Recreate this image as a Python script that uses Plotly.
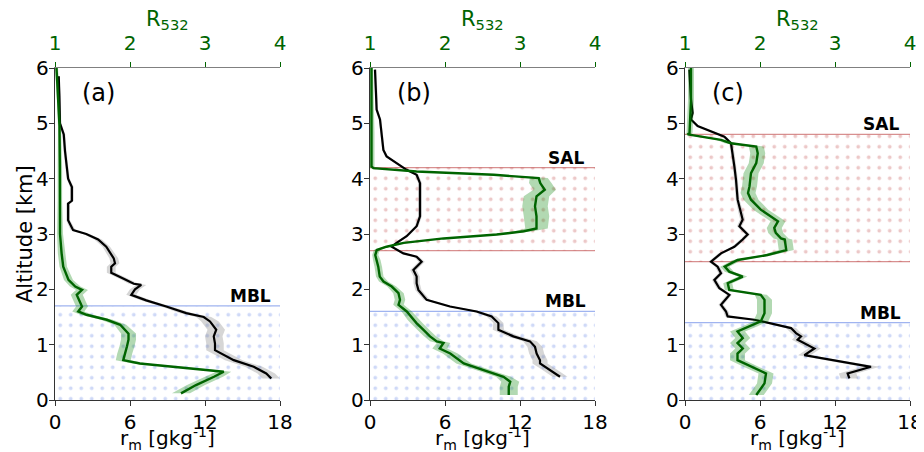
import plotly.graph_objects as go

# ---------------- data ----------------
panel_labels = ["(a)", "(b)", "(c)"]
rm_ticks = [0, 6, 12, 18]
r532_ticks = [1, 2, 3, 4]

# panel (a)
a_rm_alt = [5.85, 5.67, 5.5, 5.0, 4.8, 4.5, 4.2, 4.0, 3.85, 3.6, 3.55, 3.25, 3.07, 3.0, 2.9, 2.77, 2.56, 2.47, 2.41, 2.3,
            2.17, 2.1, 2.08, 2.0, 1.9, 1.8, 1.69, 1.57, 1.5, 1.42, 1.27, 1.15, 1.02, 0.9, 0.72, 0.6, 0.48, 0.39]
a_rm = [0.3, 0.3, 0.35, 0.4, 0.7, 0.8, 0.95, 1.05, 1.35, 1.35, 1.05, 1.05, 1.45, 2.5, 3.45, 4.1, 4.7, 4.8, 4.5, 4.5,
        5.7, 6.3, 6.9, 6.4, 6.1, 7.3, 8.9, 10.5, 11.9, 12.4, 12.9, 12.7, 12.8, 12.8, 14.3, 15.9, 16.9, 17.3]
a_rm_err = [0.1, 0.1, 0.1, 0.1, 0.12, 0.12, 0.12, 0.12, 0.15, 0.15, 0.15, 0.15, 0.2, 0.25, 0.3, 0.3, 0.35, 0.35, 0.35, 0.35,
            0.35, 0.4, 0.4, 0.4, 0.4, 0.4, 0.4, 0.5, 0.6, 0.7, 0.7, 0.7, 0.7, 0.7, 0.7, 0.7, 0.7, 0.7]
a_r_alt = [6.0, 5.43, 4.95, 4.2, 3.6, 3.0, 2.65, 2.41, 2.17, 2.05, 1.99, 1.9, 1.78, 1.69, 1.6, 1.54, 1.45, 1.36, 1.2, 1.09,
           0.97, 0.84, 0.72, 0.66, 0.6, 0.51, 0.42, 0.27, 0.12]
a_r = [1.02, 1.045, 1.06, 1.065, 1.065, 1.067, 1.088, 1.11, 1.18, 1.27, 1.36, 1.29, 1.33, 1.36, 1.31, 1.42, 1.69, 1.87, 1.98, 1.98,
       1.96, 1.93, 1.91, 2.13, 2.62, 3.25, 3.12, 2.88, 2.68]
a_r_err = [0.02, 0.02, 0.02, 0.03, 0.03, 0.04, 0.05, 0.05, 0.06, 0.07, 0.08, 0.08, 0.08, 0.08, 0.08, 0.08, 0.08, 0.08, 0.1, 0.1,
           0.1, 0.1, 0.1, 0.1, 0.1, 0.1, 0.12, 0.12, 0.12]

# panel (b)
b_rm_alt = [5.97, 5.43, 5.25, 5.07, 4.82, 4.52, 4.4, 4.28, 4.16, 4.07, 3.92, 3.62, 3.32, 3.14, 2.96, 2.84, 2.77, 2.65, 2.59, 2.5,
            2.41, 2.35, 2.23, 2.11, 1.99, 1.81, 1.69, 1.6, 1.51, 1.39, 1.27, 1.15, 1.06, 0.96, 0.84, 0.72, 0.66, 0.54, 0.42]
b_rm = [0.4, 0.53, 0.53, 0.8, 0.93, 1.07, 1.33, 2.13, 2.93, 3.73, 4.0, 4.0, 4.0, 3.73, 2.93, 2.13, 1.73, 2.67, 3.73, 4.13,
        3.73, 3.47, 3.73, 3.73, 3.87, 4.53, 6.4, 8.53, 9.73, 10.27, 10.27, 11.47, 12.8, 13.2, 13.33, 13.6, 13.6, 14.4, 15.2]
b_rm_err = [0.1, 0.1, 0.1, 0.1, 0.1, 0.1, 0.12, 0.12, 0.15, 0.15, 0.15, 0.15, 0.15, 0.15, 0.15, 0.15, 0.15, 0.2, 0.2, 0.25,
            0.25, 0.25, 0.25, 0.25, 0.25, 0.25, 0.3, 0.35, 0.4, 0.4, 0.45, 0.5, 0.55, 0.6, 0.6, 0.6, 0.6, 0.6, 0.6]
b_r_alt = [6.0, 5.4, 4.82, 4.22, 4.19, 4.13, 4.07, 4.01, 3.92, 3.8, 3.68, 3.5, 3.32, 3.1, 3.05, 2.99, 2.92, 2.84, 2.77, 2.71,
           2.62, 2.53, 2.41, 2.23, 2.14, 2.05, 1.93, 1.81, 1.72, 1.6, 1.45, 1.39, 1.27, 1.15, 1.06, 1.03, 0.93, 0.84, 0.66, 0.54,
           0.42, 0.33, 0.24, 0.09]
b_r = [1.02, 1.02, 1.02, 1.02, 1.045, 1.62, 2.65, 3.25, 3.27, 3.33, 3.22, 3.2, 3.22, 3.22, 3.05, 2.69, 1.98, 1.45, 1.22, 1.09,
       1.07, 1.09, 1.11, 1.13, 1.18, 1.29, 1.38, 1.4, 1.38, 1.49, 1.58, 1.62, 1.71, 1.8, 1.89, 1.98, 1.93, 2.07, 2.25, 2.51,
       2.78, 2.87, 2.85, 2.85]
b_r_err = [0.02, 0.03, 0.04, 0.04, 0.04, 0.1, 0.12, 0.12, 0.15, 0.15, 0.17, 0.17, 0.17, 0.15, 0.12, 0.1, 0.06, 0.05, 0.04, 0.04,
           0.04, 0.05, 0.05, 0.05, 0.06, 0.06, 0.07, 0.07, 0.07, 0.07, 0.08, 0.08, 0.08, 0.08, 0.09, 0.09, 0.1, 0.1, 0.1, 0.1,
           0.1, 0.12, 0.12, 0.12]

# panel (c)
c_rm_alt = [5.97, 5.43, 5.19, 5.07, 4.95, 4.86, 4.76, 4.64, 4.46, 4.22, 3.98, 3.62, 3.38, 3.26, 3.14, 2.99, 2.9, 2.77, 2.65, 2.5,
            2.41, 2.29, 2.17, 2.02, 1.9, 1.72, 1.6, 1.51, 1.45, 1.3, 1.21, 1.15, 1.09, 0.93, 0.81, 0.69, 0.6, 0.48, 0.39]
c_rm = [0.35, 0.48, 0.61, 0.48, 1.01, 2.08, 3.15, 3.68, 3.81, 3.95, 4.08, 4.21, 4.48, 4.61, 4.35, 5.01, 4.61, 3.95, 2.88, 2.08,
        2.61, 2.88, 2.35, 2.75, 3.55, 2.88, 3.28, 3.41, 5.55, 8.48, 8.88, 9.28, 9.01, 10.35, 9.55, 12.48, 14.88, 13.01, 13.15]
c_rm_err = [0.1, 0.1, 0.1, 0.1, 0.12, 0.15, 0.15, 0.15, 0.15, 0.15, 0.15, 0.15, 0.2, 0.2, 0.2, 0.2, 0.2, 0.2, 0.2, 0.2,
            0.2, 0.2, 0.2, 0.2, 0.2, 0.2, 0.2, 0.2, 0.3, 0.4, 0.4, 0.45, 0.45, 0.5, 0.5, 0.6, 0.7, 0.7, 0.7]
c_r_alt = [6.0, 5.43, 4.82, 4.8, 4.7, 4.64, 4.58, 4.46, 4.28, 4.1, 3.86, 3.74, 3.62, 3.44, 3.23, 3.11, 3.02, 2.92, 2.9, 2.71,
           2.62, 2.53, 2.41, 2.32, 2.23, 2.11, 1.99, 1.9, 1.81, 1.57, 1.42, 1.33, 1.24, 1.12, 1.03, 0.93, 0.84, 0.72, 0.6, 0.48,
           0.3, 0.09]
c_r = [1.08, 1.08, 1.06, 1.035, 1.48, 1.61, 1.95, 1.97, 1.95, 1.88, 1.86, 1.84, 1.88, 2.01, 2.24, 2.19, 2.21, 2.28, 2.33, 2.35,
       2.1, 1.7, 1.53, 1.59, 1.77, 1.57, 1.59, 2.01, 2.06, 2.06, 2.01, 1.86, 1.7, 1.77, 1.7, 1.77, 1.7, 1.7, 1.88, 2.08,
       2.06, 1.95]
c_r_err = [0.04, 0.04, 0.04, 0.04, 0.06, 0.08, 0.1, 0.1, 0.1, 0.1, 0.1, 0.1, 0.1, 0.1, 0.1, 0.1, 0.1, 0.1, 0.1, 0.1,
           0.08, 0.06, 0.06, 0.06, 0.06, 0.06, 0.06, 0.08, 0.1, 0.1, 0.1, 0.1, 0.1, 0.1, 0.1, 0.1, 0.1, 0.1, 0.1, 0.1,
           0.1, 0.1]

# layer boundaries (km)
mbl_top = [1.7, 1.6, 1.4]
sal_bottom = [None, 2.7, 2.5]
sal_top = [None, 4.2, 4.8]

# ---------------- styling ----------------
FONT = "DejaVu Sans"
GREEN = "#006400"
GREEN_BAND = "rgba(0,128,0,0.30)"
GRAY_BAND = "rgba(128,128,128,0.32)"
BLUE_LAYER = "rgba(65,105,225,0.5)"
RED_LAYER = "rgba(178,34,34,0.5)"
AXC = "#333333"

# page body adds an 8px offset, so the figure is 8px smaller than the window
W, H = 916, 444
ML, MR, MT, MB = 47, 14, 60, 52
PW = W - ML - MR
PH = H - MT - MB
domains = [(0.0, 225 / PW), (315 / PW, 540 / PW), (630 / PW, 855 / PW)]

panels = [
    (a_rm_alt, a_rm, a_rm_err, a_r_alt, a_r, a_r_err),
    (b_rm_alt, b_rm, b_rm_err, b_r_alt, b_r, b_r_err),
    (c_rm_alt, c_rm, c_rm_err, c_r_alt, c_r, c_r_err),
]

fig = go.Figure()


def band(x, err, y):
    lo = [v - e for v, e in zip(x, err)]
    hi = [v + e for v, e in zip(x, err)]
    return hi + lo[::-1], list(y) + list(y)[::-1]


def layer(y0, y1, color, xr, yr):
    fig.add_trace(go.Scatter(
        x=[rm_ticks[0], rm_ticks[-1], rm_ticks[-1], rm_ticks[0], rm_ticks[0]],
        y=[y0, y0, y1, y1, y0], xaxis=xr, yaxis=yr, mode="none", fill="toself",
        fillcolor="rgba(0,0,0,0)",
        fillpattern=dict(shape=".", fgcolor=color, bgcolor="rgba(0,0,0,0)", size=10.5, solidity=0.1),
        hoverinfo="skip", showlegend=False))


for i, (rm_alt, rm, rm_err, r_alt, r, r_err) in enumerate(panels):
    n = "" if i == 0 else str(i + 1)
    xb, yb = "x" + n, "y" + n
    xt = "x" + str(i + 4)

    # layers
    layer(0, mbl_top[i], BLUE_LAYER, xb, yb)
    fig.add_trace(go.Scatter(x=[rm_ticks[0], rm_ticks[-1]], y=[mbl_top[i], mbl_top[i]], xaxis=xb, yaxis=yb,
                             mode="lines", line=dict(color=BLUE_LAYER, width=1.2), hoverinfo="skip", showlegend=False))
    fig.add_annotation(x=17.4, y=mbl_top[i], xref=xb, yref=yb, text="<b>MBL</b>", showarrow=False,
                       xanchor="right", yanchor="bottom", yshift=-2, font=dict(family=FONT, size=17, color="black"))
    if sal_bottom[i] is not None:
        layer(sal_bottom[i], sal_top[i], RED_LAYER, xb, yb)
        for yv in (sal_bottom[i], sal_top[i]):
            fig.add_trace(go.Scatter(x=[rm_ticks[0], rm_ticks[-1]], y=[yv, yv], xaxis=xb, yaxis=yb,
                                     mode="lines", line=dict(color=RED_LAYER, width=1.2), hoverinfo="skip",
                                     showlegend=False))
        fig.add_annotation(x=17.3, y=sal_top[i], xref=xb, yref=yb, text="<b>SAL</b>", showarrow=False,
                           xanchor="right", yanchor="bottom", yshift=-2, font=dict(family=FONT, size=17, color="black"))

    # bands
    bx, by = band(rm, rm_err, rm_alt)
    fig.add_trace(go.Scatter(x=bx, y=by, xaxis=xb, yaxis=yb, mode="none", fill="toself",
                             fillcolor=GRAY_BAND, hoverinfo="skip", showlegend=False))
    gx, gy = band(r, r_err, r_alt)
    fig.add_trace(go.Scatter(x=gx, y=gy, xaxis=xt, yaxis=yb, mode="none", fill="toself",
                             fillcolor=GREEN_BAND, hoverinfo="skip", showlegend=False))
    # lines
    fig.add_trace(go.Scatter(x=rm, y=rm_alt, xaxis=xb, yaxis=yb, mode="lines",
                             line=dict(color="black", width=2.2), showlegend=False))
    fig.add_trace(go.Scatter(x=r, y=r_alt, xaxis=xt, yaxis=yb, mode="lines",
                             line=dict(color=GREEN, width=2.4), showlegend=False))

    fig.add_annotation(x=2.0, y=5.55, xref=xb, yref=yb, text=panel_labels[i], showarrow=False,
                       xanchor="left", yanchor="middle", font=dict(family=FONT, size=24, color="black"))

    # axis titles placed as annotations around the panel
    xmid = sum(domains[i]) / 2
    fig.add_annotation(x=xmid, y=1 + 48 / PH, xref="paper", yref="paper",
                       text="R<sub>532</sub>", showarrow=False, xanchor="center", yanchor="middle",
                       font=dict(family=FONT, size=21, color=GREEN))
    fig.add_annotation(x=xmid, y=-39 / PH, xref="paper", yref="paper",
                       text="r<sub>m</sub> [gkg<sup>-1</sup>]", showarrow=False, xanchor="center",
                       yanchor="middle", font=dict(family=FONT, size=20, color="black"))

    fig.update_layout({
        ("xaxis" + n): dict(domain=domains[i], range=[rm_ticks[0], rm_ticks[-1]], tickvals=rm_ticks,
                            showline=True, linecolor=AXC, linewidth=1.3, ticks="outside", ticklen=5,
                            tickcolor=AXC, showgrid=False, zeroline=False, anchor=yb, automargin=False,
                            ticklabelstandoff=-1,
                            tickfont=dict(family=FONT, size=20, color="black")),
        ("xaxis" + str(i + 4)): dict(overlaying=xb, side="top", anchor=yb, automargin=False,
                                     range=[r532_ticks[0], r532_ticks[-1]], tickvals=r532_ticks,
                                     showline=True, linecolor="gray", linewidth=1.3, ticks="outside",
                                     ticklen=5, tickcolor=GREEN, showgrid=False, zeroline=False,
                                     ticklabelstandoff=4,
                                     tickfont=dict(family=FONT, size=20, color=GREEN)),
        ("yaxis" + n): dict(domain=[0, 1], range=[0, 6], dtick=1, anchor=xb, automargin=False,
                            showline=True, linecolor=AXC, linewidth=1.3, ticks="outside", ticklen=5,
                            tickcolor=AXC, showgrid=False, zeroline=False, ticklabelstandoff=-4,
                            tickfont=dict(family=FONT, size=20, color="black")),
    })

# y-axis title of the first panel
fig.add_annotation(x=(17 - ML) / PW, y=0.5, xref="paper", yref="paper", text="Altitude [km]",
                   textangle=-90, showarrow=False, xanchor="center", yanchor="middle",
                   font=dict(family=FONT, size=21, color="black"))

fig.update_layout(width=W, height=H, margin=dict(l=ML, r=MR, t=MT, b=MB, autoexpand=False),
                  plot_bgcolor="white", paper_bgcolor="white", showlegend=False,
                  font=dict(family=FONT))

fig.write_html("out.html")
